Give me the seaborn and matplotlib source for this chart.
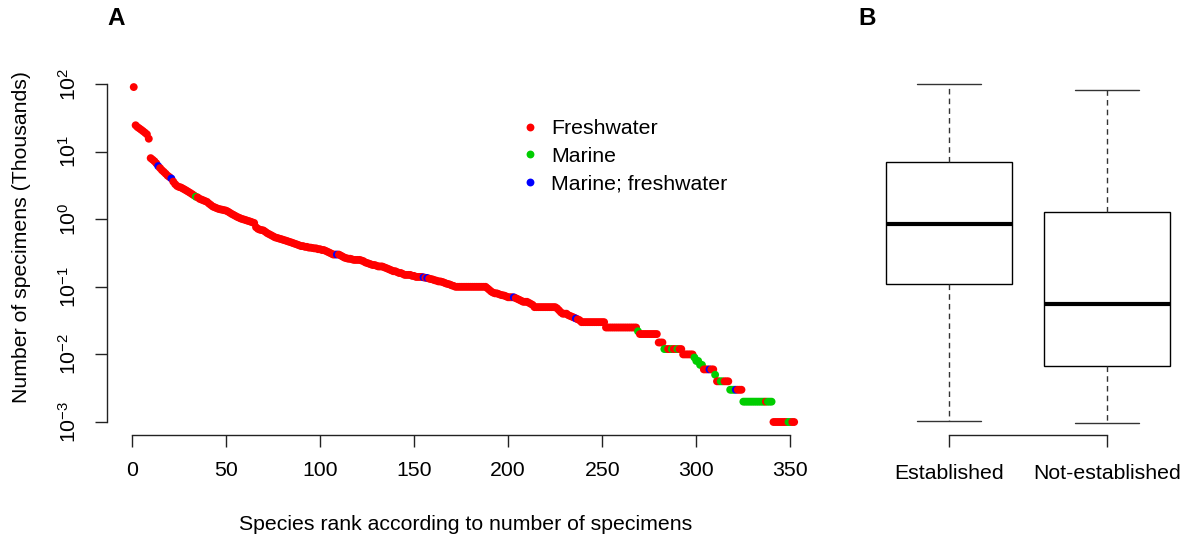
import numpy as np
import pandas as pd
import matplotlib
matplotlib.use("Agg")
import matplotlib.pyplot as plt
import seaborn as sns
from matplotlib.ticker import FixedLocator, NullLocator, LogFormatterSciNotation

# ---------------- data (panel A): specimens per species, sorted by rank ----------------
specimens = (
    [90000, 24500, 23000, 22000, 21000, 20000, 19000, 18000, 15500]
    + [8000, 7600, 7200, 6700, 6100, 5700, 5300, 5000, 4700, 4400, 4200, 4000, 3600, 3300, 3100]
    + [3000, 2950, 2850, 2750, 2650, 2550, 2450, 2350, 2250, 2150]
    + [2100, 2000, 1950, 1900, 1850, 1800, 1700, 1620, 1540, 1500]
    + [1460, 1420, 1400, 1380, 1360, 1340, 1300, 1250, 1200, 1160]
    + [1120, 1080, 1050, 1020, 1000, 980, 960, 940, 920, 900]
    + [880, 760, 720, 700, 690, 680, 650, 620, 600, 580]
    + [560, 540, 530, 520, 510, 500, 490, 480, 470, 460]
    + [450, 440, 430, 420, 410, 400, 400, 390, 390, 380]
    + [380, 375, 370, 370, 360, 360, 350, 350, 340, 330]
    + [320, 310, 300, 300, 300, 300, 290, 280, 270, 265]
    + [260, 260, 255, 250, 250, 250, 250, 245, 240, 230]
    + [225, 220, 215, 210, 210, 205, 200, 200, 200, 195]
    + [190, 185, 180, 175, 170, 170, 165, 160, 160, 155]
    + [150, 150, 150, 150, 145, 145, 140, 140, 140, 140]
    + [138, 136, 135, 132, 130, 128, 125, 123, 120, 120]
    + [118, 115, 112, 110, 108, 105, 103, 100, 100, 100]
    + [100] * 14
    + [95, 90, 85, 82, 80, 80, 78, 76, 75, 74]
    + [72, 70, 70, 70, 70, 68, 66, 64, 62, 60]
    + [60, 60, 58, 56, 54]
    + [50] * 12
    + [48, 45, 42, 40, 40, 40, 38, 37, 36, 35, 34, 33, 32]
    + [30] * 13
    + [25] * 17
    + [22]
    + [20] * 10
    + [15] * 3
    + [12] * 10
    + [10] * 6
    + [9, 8, 8, 7, 7]
    + [6] * 6
    + [5]
    + [4] * 7
    + [3] * 7
    + [2] * 16
    + [1] * 12
)
habitat_labels = ["Freshwater", "Marine", "Marine; freshwater"]
marine_ranks = [34, 269, 283, 284, 287, 290, 299, 300, 301, 302, 303, 310, 313, 314,
                318, 319, 320, 325, 326, 327, 328, 329, 330, 331, 332, 333, 334, 335, 336,
                338, 339, 340, 349, 350]
marine_fresh_ranks = [14, 21, 109, 155, 157, 203, 236, 307, 321]

# ---------------- data (panel B): five-number summaries (thousands) ----------------
groups = ["Established", "Not-established"]
established_summary = [0.00103, 0.11, 0.85, 7.0, 100.0]
not_established_summary = [0.00098, 0.0068, 0.056, 1.28, 81.0]

x_ticks = [0, 50, 100, 150, 200, 250, 300, 350]
y_ticks = [1e-3, 1e-2, 1e-1, 1e0, 1e1, 1e2]

# ---------------- build tables ----------------
ranks = np.arange(1, len(specimens) + 1)
habitat = []
for r in ranks:
    if r in marine_ranks:
        habitat.append(habitat_labels[1])
    elif r in marine_fresh_ranks:
        habitat.append(habitat_labels[2])
    else:
        habitat.append(habitat_labels[0])
dfA = pd.DataFrame({"rank": ranks, "thousands": np.array(specimens) / 1000.0, "habitat": habitat})

dfB = pd.DataFrame({
    "status": [groups[0]] * 5 + [groups[1]] * 5,
    "thousands": established_summary + not_established_summary,
})

# ---------------- style ----------------
sns.set_style("white")
plt.rcParams["font.family"] = ["Liberation Sans", "DejaVu Sans"]
plt.rcParams["mathtext.default"] = "regular"
plt.rcParams["text.color"] = "black"
plt.rcParams["axes.labelcolor"] = "black"
plt.rcParams["xtick.color"] = "black"
plt.rcParams["ytick.color"] = "black"
FS = 15.3
line_col = "#222222"

fig = plt.figure(figsize=(11.91, 5.39), dpi=100)
W, H = 1191.0, 539.0
top_px, bot_px = 73.7, 435.4
axA = fig.add_axes([107.4 / W, 1 - bot_px / H, (820.5 - 107.4) / W, (bot_px - top_px) / H])
axB = fig.add_axes([870.0 / W, 1 - bot_px / H, (1186.0 - 870.0) / W, (bot_px - top_px) / H])

palette = {"Freshwater": "#FF0000", "Marine": "#00CD00", "Marine; freshwater": "#0000FF"}
ylim = (10 ** -3.198, 10 ** 2.152)

# ---------------- panel A ----------------
sns.scatterplot(data=dfA, x="rank", y="thousands", hue="habitat", hue_order=habitat_labels,
                palette=palette, s=32, linewidth=0, edgecolor="none", ax=axA, legend=True)
axA.set_yscale("log")
axA.set_xlim(-13, 366)
axA.set_ylim(*ylim)
axA.xaxis.set_major_locator(FixedLocator(x_ticks))
axA.yaxis.set_major_locator(FixedLocator(y_ticks))
axA.yaxis.set_major_formatter(LogFormatterSciNotation())
axA.yaxis.set_minor_locator(NullLocator())
axA.xaxis.set_minor_locator(NullLocator())
for s in ["top", "right"]:
    axA.spines[s].set_visible(False)
axA.spines["left"].set_bounds(1e-3, 1e2)
axA.spines["bottom"].set_bounds(0, 350)
for s in ["left", "bottom"]:
    axA.spines[s].set_color(line_col)
    axA.spines[s].set_linewidth(1.0)
axA.tick_params(axis="both", direction="out", length=8.6, width=1.0, color=line_col,
                labelsize=FS, labelcolor="black", left=True, bottom=True)
axA.tick_params(axis="x", pad=10)
axA.tick_params(axis="y", pad=11)
plt.setp(axA.get_yticklabels(), rotation=90, va="center")

axA.set_xlabel("Species rank according to number of specimens", fontsize=FS, color="black")
axA.xaxis.label.set_va("center")
axA.xaxis.set_label_coords((466 - 107.4) / (820.5 - 107.4), (bot_px - 524) / (bot_px - top_px))
axA.set_ylabel("Number of specimens (Thousands)", fontsize=FS, color="black")
axA.yaxis.label.set_va("center")
axA.yaxis.set_label_coords((22 - 107.4) / (820.5 - 107.4), (bot_px - 237) / (bot_px - top_px))

sns.move_legend(axA, "upper left", bbox_to_anchor=(519 / W, 1 - 119 / H),
                bbox_transform=fig.transFigure, frameon=False, title=None,
                fontsize=FS, handlelength=1.0, handletextpad=0.5, labelspacing=0.42,
                borderpad=0, borderaxespad=0, markerscale=1.0)
for t in axA.get_legend().get_texts():
    t.set_color("black")

# ---------------- panel B ----------------
sns.boxplot(data=dfB, x="status", y="thousands", order=groups, log_scale=True,
            whis=(0, 100), width=0.8, color="white", linecolor="black", linewidth=1.0,
            fliersize=0,
            medianprops={"linewidth": 3.0, "color": "black"},
            whiskerprops={"linestyle": (0, (4, 3)), "linewidth": 1.0, "color": "#333333"},
            capprops={"linewidth": 1.0, "color": "#333333"},
            boxprops={"facecolor": "white", "edgecolor": "black", "linewidth": 1.0},
            ax=axB)
axB.set_ylim(*ylim)
axB.set_xlim(-0.5, 1.5)
axB.yaxis.set_major_locator(NullLocator())
axB.yaxis.set_minor_locator(NullLocator())
for s in ["top", "right", "left"]:
    axB.spines[s].set_visible(False)
axB.spines["bottom"].set_bounds(0, 1)
axB.spines["bottom"].set_color(line_col)
axB.spines["bottom"].set_linewidth(1.0)
axB.tick_params(axis="x", direction="out", length=8.6, width=1.0, color=line_col,
                labelsize=FS, labelcolor="black", pad=12, bottom=True)
axB.set_xlabel("")
axB.set_ylabel("")

# ---------------- panel letters ----------------
fig.text(116 / W, 1 - 18.5 / H, "A", fontsize=17.5, fontweight="bold", ha="center", va="center", color="black")
fig.text(867 / W, 1 - 18.5 / H, "B", fontsize=17.5, fontweight="bold", ha="center", va="center", color="black")

fig.savefig("out.png", dpi=100, facecolor="white")
